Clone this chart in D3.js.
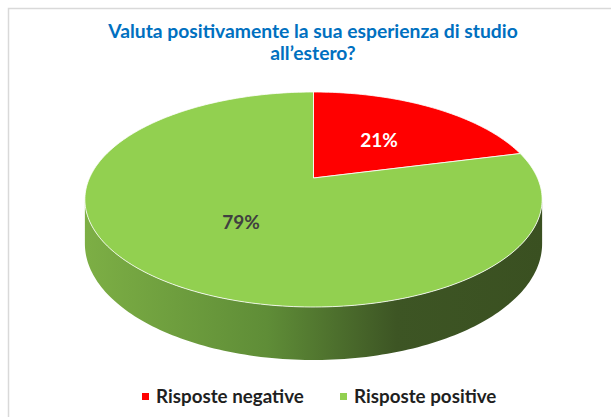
<!DOCTYPE html>
<html>
<head>
<meta charset="utf-8">
<script src="https://cdn.jsdelivr.net/npm/d3@7"></script>
<style>
  html, body { margin: 0; padding: 0; background: #fff; }
  svg { display: block; font-family: Lato, "Open Sans", sans-serif; }
</style>
</head>
<body>
<div id="chart"></div>
<script>
// data
const categories = ["Risposte negative", "Risposte positive"];
const values = [21, 79];
const colors = ["#ff0000", "#92d050"];
const labelColors = ["#ffffff", "#404040"];
const titleLines = ["Valuta positivamente la sua esperienza di studio", "all\u2019estero?"];

const width = 611, height = 417;

const svg = d3.select("#chart")
  .append("svg")
  .attr("width", width)
  .attr("height", height);

// frame
svg.append("path")
  .attr("d", "M8.5," + height + "V8.5H" + width)
  .attr("fill", "none")
  .attr("stroke", "#d9d9d9")
  .attr("stroke-width", 1.5);

// title
svg.append("text")
  .attr("text-anchor", "middle")
  .attr("fill", "#0070c0")
  .attr("font-weight", "bold")
  .attr("font-size", 19.3)
  .selectAll("tspan")
  .data(titleLines)
  .enter()
  .append("tspan")
  .attr("x", 313)
  .attr("y", (d, i) => 38 + i * 22)
  .text(d => d);

// 3d pie, simple perspective projection
const cx = 313.5, cy = 178;
const a = 224, b = 103.2, k = 0.2, depth = 42.4;

function project(theta, t) {
  // theta clockwise from 12 o'clock, t = 0 top face, 1 bottom
  const X = Math.sin(theta), Z = -Math.cos(theta);
  const w = 1 - k * Z;
  return [cx + a * X / w, cy + (b * Z + depth * t) / w];
}

const pie = d3.pie().sort(null).value(d => d)(values);

function arcPoints(a0, a1, t) {
  const n = Math.max(2, Math.ceil(Math.abs(a1 - a0) / 0.02));
  return d3.range(n + 1).map(i => project(a0 + (a1 - a0) * i / n, t));
}

const line = d3.line();

// side wall, visible between the two tangent points
const tR = Math.PI - Math.acos(k);
const tL = Math.PI + Math.acos(k);
const grad = svg.append("defs").append("linearGradient")
  .attr("id", "sideGrad")
  .attr("gradientUnits", "userSpaceOnUse")
  .attr("x1", cx - a * 1.03).attr("x2", cx + a * 1.03)
  .attr("y1", 0).attr("y2", 0);
[["0%", "#7daf45"], ["40%", "#5f8d37"], ["68%", "#3d5524"], ["100%", "#3a5021"]]
  .forEach(s => grad.append("stop").attr("offset", s[0]).attr("stop-color", s[1]));

pie.forEach((p, i) => {
  const s0 = Math.max(p.startAngle, tR), s1 = Math.min(p.endAngle, tL);
  if (s1 <= s0) return;
  const pts = arcPoints(s0, s1, 0).concat(arcPoints(s1, s0, 1));
  svg.append("path")
    .attr("d", line(pts) + "Z")
    .attr("fill", i === 1 ? "url(#sideGrad)" : d3.color(colors[i]).darker(1));
});

// top faces
svg.selectAll("path.slice")
  .data(pie)
  .enter()
  .append("path")
  .attr("class", "slice")
  .attr("d", d => line([[cx, cy]].concat(arcPoints(d.startAngle, d.endAngle, 0))) + "Z")
  .attr("fill", (d, i) => colors[i])
  .attr("stroke", "#ffffff")
  .attr("stroke-width", 0.8)
  .attr("stroke-linejoin", "round");

// labels
svg.selectAll("text.lbl")
  .data(pie)
  .enter()
  .append("text")
  .attr("class", "lbl")
  .attr("text-anchor", "middle")
  .attr("font-weight", "bold")
  .attr("font-size", 19)
  .attr("fill", (d, i) => labelColors[i])
  .attr("x", d => {
    const m = (d.startAngle + d.endAngle) / 2;
    const X = 0.5 * Math.sin(m), Z = -0.5 * Math.cos(m);
    return cx + a * X / (1 - k * Z) + 2;
  })
  .attr("y", d => {
    const m = (d.startAngle + d.endAngle) / 2;
    const Z = -0.5 * Math.cos(m);
    return cy + b * Z / (1 - k * Z) + 7;
  })
  .text(d => d.data + "%");

// legend
const legend = svg.append("g");
const legendX = [142, 340];
categories.forEach((c, i) => {
  legend.append("rect")
    .attr("x", legendX[i]).attr("y", 393)
    .attr("width", 7).attr("height", 7)
    .attr("fill", colors[i]);
  legend.append("text")
    .attr("x", legendX[i] + 14).attr("y", 403)
    .attr("font-weight", "bold")
    .attr("font-size", 18.8)
    .attr("fill", "#1f1f1f")
    .text(c);
});
</script>
</body>
</html>
